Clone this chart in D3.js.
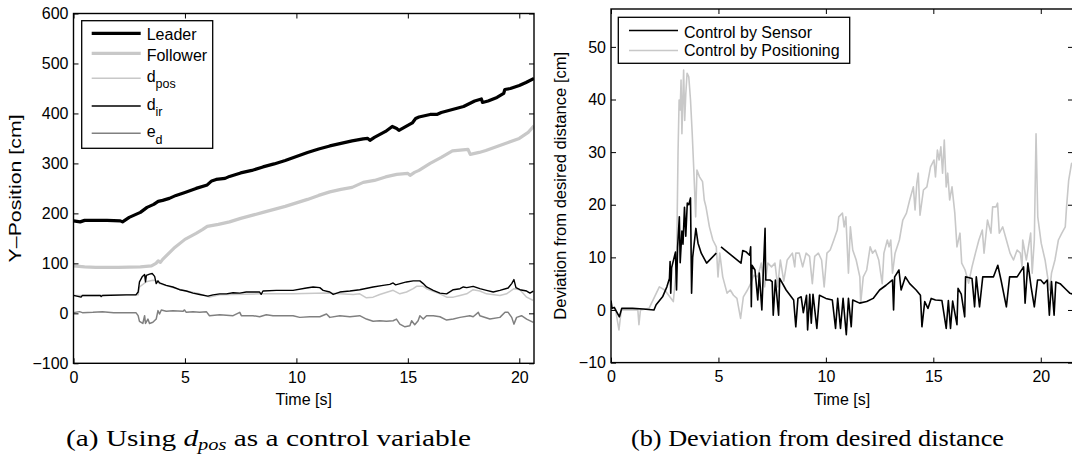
<!DOCTYPE html>
<html><head><meta charset="utf-8">
<script src="https://cdn.jsdelivr.net/npm/d3@7"></script>
<style>body{margin:0;background:#fff}svg{display:block}</style>
</head><body>
<svg id="c" width="1072" height="468"></svg>
<script>
// ---------- DATA: left chart (a) ----------
const leaderTime = [0,0.3,0.5,1,1.5,2.1,2.2,2.5,3,3.3,3.6,3.8,4,4.3,4.6,5,5.5,6,6.2,6.4,6.8,7,7.5,8,8.5,9,9.5,10,10.5,11,11.5,12,12.5,13,13.2,13.3,13.5,14,14.3,14.5,14.6,15,15.2,15.35,15.5,16,16.3,16.5,17,17.5,18,18.3,18.35,18.6,19,19.3,19.35,19.6,20,20.3,20.66];
const leaderPos  = [185,183,186,186,186,185,183,192,202,212,218,224,226,230,236,242,250,257,265,268,270,274,281,286,293,299,306,314,322,329,335,340,345,349,350,346,352,364,374,370,366,376,381,390,393,398,398,402,408,414,425,429,422,425,432,440,448,450,456,462,470];

const followerTime = [0,0.5,1,2,3,3.5,3.7,3.8,3.9,4,4.5,5,5.5,5.8,6,6.5,7,7.5,8,8.5,9,9.5,10,10.5,11,11.5,12,12.5,13,13.5,14,14.5,15,15.1,15.3,15.5,16,16.5,17,17.7,17.8,18.2,18.5,19,19.5,20,20.4,20.66];
const followerPos  = [95,93,92,92,93,95,100,105,102,108,130,148,160,168,174,178,183,190,196,202,208,214,221,228,236,243,248,252,262,266,273,278,280,276,282,286,300,312,325,328,318,322,326,334,342,350,362,375];

const dirTime = [0,0.34,0.4,1.2,1.24,1.3,2.37,2.8,2.9,2.96,3.08,3.19,3.23,3.27,3.41,3.53,3.64,3.71,3.79,3.86,4.16,4.46,4.76,5.06,5.36,5.66,6.03,6.26,6.56,6.86,7.16,7.46,7.75,8.35,8.42,8.5,9.1,9.85,10.45,10.75,11.05,11.2,11.5,11.65,11.95,12.4,12.84,13.44,13.89,14.19,14.34,14.45,14.94,15.24,15.54,15.69,15.84,16.14,16.44,16.74,17.04,17.34,17.49,17.64,17.93,18.23,18.53,18.83,19.13,19.5,19.66,19.76,19.85,20.03,20.33,20.48,20.63];
const dirVal  = [35.8,32.4,35.8,35.8,33.5,35.8,37,37,42.6,63,73,77.7,63,76,78.4,79.7,74,59.5,65,61,56,52.7,47.3,44.6,40.5,37.8,34.5,37,39,39,41.2,40.5,42.6,42.6,38,44.6,46,46,50.7,52.7,51.4,46,42.6,37.8,42.6,44.6,47.3,52.7,56,58,60.8,57,62.8,64.9,64.9,59.5,52.7,46,40.5,39,47.3,49.3,52.7,51.4,54,49.3,46,42.6,46,50.7,59.5,67.6,51.4,47.3,44.6,40.5,44.6];

const dposTime = [0,1,2.37,2.9,2.96,3.26,3.56,3.71,3.86,4.46,5.06,5.66,6.1,6.56,8.35,9.85,11.35,12.55,12.84,13.14,13.44,13.74,14.34,14.64,14.94,15.24,15.39,15.69,15.84,16.44,16.74,17.04,17.34,17.64,17.93,18.23,18.53,19.13,19.43,19.76,20.03,20.33,20.63];
const dposVal  = [35.8,35.8,37,37,52.7,63,66,65,59.5,51.4,44.6,39,32.4,37,39,39,40.5,37.8,39,31,32.4,37.8,46,39,42.6,49.3,54,54,49.3,39,32.4,32.4,35.8,39,47.3,44.6,39,35.8,39,49.3,47.3,32.4,25.7];

const edTime = [0,0.27,0.4,0.87,1.3,1.8,2.37,2.8,2.9,2.96,3.11,3.19,3.23,3.34,3.41,3.56,3.71,3.79,3.86,3.94,4.16,4.46,4.91,4.98,5.06,5.36,5.66,5.96,6.1,6.56,7.16,7.46,7.53,8.05,8.35,8.65,8.95,9.55,9.85,10.15,10.6,11.05,11.35,11.5,11.95,12.4,12.84,13.14,13.44,13.74,14.04,14.34,14.49,14.64,14.87,15.09,15.17,15.31,15.46,15.54,15.69,15.84,16.14,16.44,16.74,17.04,17.34,17.78,17.93,18.16,18.23,18.68,19.13,19.36,19.5,19.66,19.76,19.88,20.1,20.33,20.63];
const edVal  = [1.4,3.4,1.4,2.2,3.4,1.4,1.4,1.4,-4.7,-16,-20.3,-4.7,-20.3,-11.5,-20.3,-18,-11.5,5.4,-1.4,6.8,4,5.4,4,6.8,2,3.4,2,3.4,-4.7,-2.7,-4.7,2,-4.7,-4.7,-6.8,-2.7,-4.7,-4.7,-4.7,-8.1,-6.8,-6.8,-1.4,-8.1,-4.7,-6.8,-4.7,-11.5,-16,-14.9,-16,-14.9,-11.5,-21.6,-27,-25,-14.9,-22.9,-14.9,-4.7,-11.5,-4.7,-4.7,-6.8,-13.5,-11.5,-8.1,-4.7,-6.8,2,-4.7,-11.5,-8.1,2,2,-8.1,-21.6,-8.1,-4.7,-11.5,-18];

const xTicksA = [0,5,10,15,20];
const yTicksA = [-100,0,100,200,300,400,500,600];

// ---------- DATA: right chart (b) ----------
const sensorTime = [0,0.05,0.15,0.39,0.5,1,1.5,2.0,2.1,2.4,2.6,2.72,2.75,2.78,2.82,3.0,3.05,3.1,3.18,3.22,3.3,3.35,3.42,3.48,3.55,3.62,3.7,3.75,3.8,3.95,4.05,4.2,4.45,4.9,4.97,5.12,6.05,6.13,6.3,6.45,6.5,6.53,6.56,6.7,6.83,6.9,7.02,7.08,7.17,7.2,7.4,7.5,7.55,7.65,7.8,7.85,8.15,8.5,8.6,8.7,8.85,8.95,9.1,9.15,9.25,9.32,9.4,9.58,9.7,10,10.3,10.45,10.55,10.68,10.8,10.95,11.05,11.18,11.25,11.57,11.9,12.2,12.5,12.8,13.1,13.15,13.2,13.4,13.5,13.7,13.9,14.2,14.4,14.47,14.6,14.75,14.9,15.1,15.4,15.6,15.7,15.8,15.9,16.1,16.15,16.3,16.46,16.5,16.8,16.92,17.0,17.15,17.3,17.8,18.0,18.15,18.4,18.55,18.9,19.2,19.27,19.4,19.55,19.7,19.85,20.0,20.15,20.3,20.4,20.5,20.62,20.7,20.9,21.2,21.35,21.5];
const sensorDev  = [1.8,0.3,0.5,-1.3,0.3,0.3,0.2,0,1,2.5,4.4,6,9.2,3.2,8,11,3.8,12,17.7,9,15,12.5,19.5,14,20.3,20,21.3,3.2,10,15.5,12.7,10.8,8.9,10.8,null,12,8.9,11.3,11,10.4,12,0.6,8.5,7.6,1.9,7,0,6.3,15.5,5.7,5.7,5.4,-1,5.7,-1,6,3.8,1.9,-3.2,2.2,2.5,-0.5,2.8,-3.8,3,-2.5,3,-3.5,2.8,2.2,1.9,-3.5,2.2,-3.5,2.2,-4.7,2.2,-3.2,1.9,1.3,1.6,2.2,3.8,4.7,5.7,0,6.3,7.6,3.8,6.3,5,3.8,2.8,-3.2,1.6,0.3,2.2,1.9,1.8,-3.5,1.8,-3.5,1.7,-2.8,4.1,3,-1.3,6.3,6,0.6,6.3,0.6,6.3,6.3,8.5,5.7,0.6,6.3,6.3,8.2,1.3,8.9,4.4,0.6,5.7,5.7,5,5.7,-1,5.4,-1,5.3,5,3.8,3.2,3];

const posTime = [0,0.2,0.37,0.48,1.25,1.3,1.37,1.77,2.25,2.5,2.9,3.05,3.12,3.17,3.22,3.26,3.3,3.38,3.43,3.48,3.54,3.62,3.7,3.78,3.86,3.94,4.0,4.12,4.26,4.34,4.42,4.58,4.74,4.9,4.98,5.06,5.2,5.4,5.55,5.7,5.86,6.03,6.16,6.35,6.51,6.64,6.83,6.99,7.15,7.3,7.47,7.63,7.76,7.88,8.04,8.2,8.44,8.55,8.6,8.76,8.92,9.08,9.24,9.37,9.48,9.65,9.8,9.92,10.05,10.2,10.37,10.53,10.6,10.77,10.85,10.93,11.05,11.14,11.25,11.41,11.58,11.62,11.74,11.9,12.06,12.17,12.3,12.46,12.62,12.7,12.86,12.94,13.02,13.1,13.22,13.42,13.58,13.75,13.9,14.07,14.15,14.23,14.3,14.38,14.54,14.7,14.87,15.03,15.1,15.19,15.27,15.35,15.43,15.51,15.6,15.67,15.76,15.87,16.0,16.1,16.24,16.32,16.48,16.64,16.8,16.96,17.12,17.28,17.36,17.52,17.68,17.76,17.92,17.99,18.07,18.23,18.4,18.57,18.73,18.9,19.05,19.13,19.16,19.33,19.53,19.6,19.7,19.78,19.86,20.02,20.2,20.34,20.42,20.5,20.66,20.82,20.98,21.14,21.2,21.3,21.43,21.5];
const posDev  = [0.3,0.3,-3.8,0,0,-2.8,0,0.3,4.4,3.8,1.6,8.2,30,39.9,38,43.7,33.5,45.6,36,41,45,44.3,39.9,33.5,26,17.7,26.6,25.3,24.4,20.9,19.6,15.8,13.3,12,6.3,10.8,6.3,3.2,3.8,2.8,2.2,-1.6,2.5,3.8,5.1,6.6,6.3,8.9,4.4,8.9,8.2,8.9,4.4,9.5,5.5,9.5,10.8,8.2,10.8,10.8,8.2,10.8,10.2,5,10.2,10.8,9.5,4.4,10.8,11.4,13.3,15.2,17.7,18.4,15.8,17.7,7,15.8,11.4,9.5,6.3,1.3,6.3,7.6,12,10.8,11.4,9.5,5,10.8,13.3,12,13.3,7,10.8,13.3,17.1,18.4,20.9,23.4,19,24,26,18,22.8,23.4,27.2,28.5,25.3,30.4,28.5,31,26,32.3,23.4,26,20.9,23.4,18.4,12,14.6,8.9,7.6,5.1,8.2,10.8,13.3,15.2,10.8,17.1,14.6,19.6,19.6,20.3,14.6,15.8,13.3,10.8,9.5,11.4,10.8,8.2,13.3,9.5,14.6,7,13.3,33.5,17.7,12.7,9.5,5.7,3.8,7,9.5,13.3,14.6,15.8,19.6,24.7,27.8,28];

const xTicksB = [0,5,10,15,20];
const yTicksB = [-10,0,10,20,30,40,50];

// ---------- DRAWING ----------
const svg = d3.select("#c");
const FONT = "'Liberation Sans', Arial, Helvetica, sans-serif";
const FS = 16;

function zip(t, v){ return t.map((d,i)=>({t:d, v:v[i]})); }

function panel(cfg){
  const g = svg.append("g");
  const x = d3.scaleLinear().domain(cfg.xDomain).range([cfg.left, cfg.right]);
  const y = d3.scaleLinear().domain(cfg.yDomain).range([cfg.bottom, cfg.top]);
  const clipId = "clip" + cfg.id;
  svg.append("clipPath").attr("id", clipId).append("rect")
    .attr("x", cfg.left).attr("y", cfg.top)
    .attr("width", cfg.right - cfg.left).attr("height", cfg.bottom - cfg.top);
  const lines = g.append("g").attr("clip-path", `url(#${clipId})`);
  cfg.series.forEach(s=>{
    const line = d3.line().defined(d=>d.v!==null).x(d=>x(d.t)).y(d=>y(d.v));
    lines.append("path").datum(zip(s.t, s.v))
      .attr("d", line).attr("fill","none")
      .attr("stroke", s.color).attr("stroke-width", s.w)
      .attr("stroke-linejoin","round").attr("stroke-linecap","butt");
  });
  const tk = 5;
  const ax = (a)=>a.tickSizeOuter(0);
  const bottomA = g.append("g").attr("transform",`translate(0,${cfg.bottom})`)
    .call(ax(d3.axisBottom(x).tickValues(cfg.xTicks).tickSizeInner(-tk).tickPadding(8).tickFormat(d3.format("d"))));
  const leftA = g.append("g").attr("transform",`translate(${cfg.left},0)`)
    .call(ax(d3.axisLeft(y).tickValues(cfg.yTicks).tickSizeInner(-tk).tickPadding(5).tickFormat(d=>d<0?"\u2212"+Math.abs(d):d)));
  const topA = g.append("g").attr("transform",`translate(0,${cfg.top})`)
    .call(ax(d3.axisTop(x).tickValues(cfg.xTicks).tickSizeInner(-tk).tickFormat("")));
  const rightA = g.append("g").attr("transform",`translate(${cfg.right},0)`)
    .call(ax(d3.axisRight(y).tickValues(cfg.yTicks).tickSizeInner(-tk).tickFormat("")));
  [bottomA,leftA,topA,rightA].forEach(a=>{
    a.selectAll(".domain").remove();
    a.selectAll("line").attr("stroke","#000").attr("stroke-width",1);
    a.selectAll("text").attr("font-family",FONT).attr("font-size",FS).attr("fill","#000");
  });
  g.append("rect").attr("x",cfg.left).attr("y",cfg.top)
    .attr("width",cfg.right-cfg.left).attr("height",cfg.bottom-cfg.top)
    .attr("fill","none").attr("stroke","#000").attr("stroke-width",1.4);
  g.append("text").attr("x",(cfg.left+cfg.right)/2).attr("y",cfg.bottom+42)
    .attr("text-anchor","middle").attr("font-family",FONT).attr("font-size",FS).text(cfg.xLabel);
  g.append("text").attr("transform",`translate(${cfg.yLabelX},${(cfg.top+cfg.bottom)/2}) rotate(-90)`)
    .attr("text-anchor","middle").attr("font-family",FONT).attr("font-size",FS)
    .attr("textLength",cfg.yLabelLen).attr("lengthAdjust","spacingAndGlyphs").text(cfg.yLabel);
  return {g,x,y};
}

panel({
  id:"a", left:73.5, right:534, top:13.5, bottom:363.3,
  xDomain:[0,20.66], yDomain:[-100,600], xTicks:xTicksA, yTicks:yTicksA,
  xLabel:"Time [s]", yLabel:"Y\u2013Position [cm]", yLabelX:21, yLabelLen:148,
  series:[
    {t:leaderTime, v:leaderPos, color:"#000", w:3.2},
    {t:followerTime, v:followerPos, color:"#c8c8c8", w:3.2},
    {t:dposTime, v:dposVal, color:"#c8c8c8", w:1.5},
    {t:dirTime, v:dirVal, color:"#000", w:1.4},
    {t:edTime, v:edVal, color:"#808080", w:1.5}
  ]
});

panel({
  id:"b", left:611, right:1073, top:9, bottom:362.6,
  xDomain:[0,21.5], yDomain:[-10,57.2], xTicks:xTicksB, yTicks:yTicksB,
  xLabel:"Time [s]", yLabel:"Deviation from desired distance [cm]", yLabelX:566, yLabelLen:268,
  series:[
    {t:posTime, v:posDev, color:"#c8c8c8", w:1.6},
    {t:sensorTime, v:sensorDev, color:"#000", w:1.6}
  ]
});

function legend(box, entries){
  const g = svg.append("g");
  g.append("rect").attr("x",box.x).attr("y",box.y).attr("width",box.w).attr("height",box.h)
    .attr("fill","#fff").attr("stroke","#000").attr("stroke-width",1.3);
  entries.forEach(e=>{
    g.append("line").attr("x1",box.lx1).attr("x2",box.lx2).attr("y1",e.ly).attr("y2",e.ly)
      .attr("stroke",e.color).attr("stroke-width",e.w);
    const t = g.append("text").attr("x",box.tx).attr("y",e.ty)
      .attr("font-family",FONT).attr("font-size",16).attr("fill","#000");
    t.append("tspan").text(e.main);
    if(e.sub){ t.append("tspan").attr("dy",6.5).attr("font-size",12.5).text(e.sub); }
  });
}
legend({x:81.7,y:20.7,w:131,h:127.6,lx1:91.7,lx2:140.7,tx:146.7},[
  {main:"Leader", color:"#000", w:3.2, ly:33.3, ty:39.5},
  {main:"Follower", color:"#c8c8c8", w:3.2, ly:53.3, ty:60.5},
  {main:"d", sub:"pos", color:"#c8c8c8", w:1.5, ly:78.3, ty:81.5},
  {main:"d", sub:"ir", color:"#000", w:1.4, ly:106, ty:109.5},
  {main:"e", sub:"d", color:"#808080", w:1.5, ly:133.3, ty:137}
]);
legend({x:618.3,y:17.3,w:231.4,h:46,lx1:629,lx2:678,tx:684},[
  {main:"Control by Sensor", color:"#000", w:1.6, ly:30.5, ty:37.5},
  {main:"Control by Positioning", color:"#c8c8c8", w:1.6, ly:50.5, ty:56}
]);

const SERIF = "'Liberation Serif', 'DejaVu Serif', serif";
const capA = svg.append("text").attr("x",66).attr("y",446)
  .attr("font-family",SERIF).attr("font-size",23).attr("fill","#000")
  .attr("textLength",405).attr("lengthAdjust","spacingAndGlyphs");
capA.append("tspan").text("(a) Using ");
capA.append("tspan").attr("font-style","italic").text("d");
capA.append("tspan").attr("font-style","italic").attr("font-size",16).attr("dy",4).text("pos");
capA.append("tspan").attr("dy",-4).text(" as a control variable");
svg.append("text").attr("x",631).attr("y",446)
  .attr("font-family",SERIF).attr("font-size",23).attr("fill","#000")
  .attr("textLength",373).attr("lengthAdjust","spacingAndGlyphs")
  .text("(b) Deviation from desired distance");
</script>
</body></html>
